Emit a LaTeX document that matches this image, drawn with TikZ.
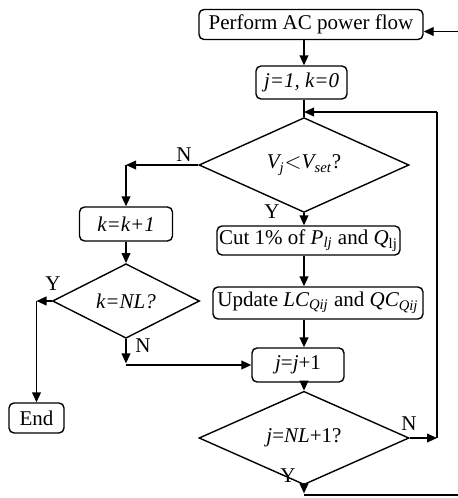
\documentclass[tikz,border=0pt]{standalone}
\usepackage{amsmath}
\usepackage{fontspec}
\setmainfont{Liberation Serif}
\usetikzlibrary{arrows.meta,shapes.geometric}
\tikzset{
  procbox/.style={
    draw,rounded corners=2.5pt,line width=0.7pt,
    minimum height=15pt,inner sep=1pt,
    font=\fontsize{10.5}{12}\selectfont
  },
  decbox/.style={
    draw,diamond,line width=0.7pt,inner sep=0pt,
    font=\fontsize{10.5}{12}\selectfont
  },
  flow/.style={line width=0.7pt,-{Triangle[length=5pt,width=4.4pt]}},
  plain/.style={line width=0.7pt},
  lbl/.style={font=\fontsize{10.5}{12}\selectfont,inner sep=0pt},
}

\begin{document}
\begin{tikzpicture}[x=0.5pt,y=-0.5pt]
  \useasboundingbox (0,0) rectangle (457,498);
  \coordinate (spine) at (304,0);
  \node[procbox,minimum width=112pt] (pflow) at (311,24.5) {Perform AC power flow};
  \node[procbox,minimum width=45.5pt,minimum height=16.5pt] (jinit) at (301.5,82.5) {\textit{j=1, k=0}};
  \node[decbox,minimum width=105pt,minimum height=34pt] (vcheck) at (304,165) {$\textit{V}_{\textit{j}}{<}\textit{V}_{\textit{set}}$?};
  \node[procbox,minimum width=46.5pt,minimum height=17pt] (kinc) at (126,224) {\textit{k=k+1}};
  \node[decbox,minimum width=73.5pt,minimum height=26pt] (kcheck) at (126,301) {\textit{k=NL?}};
  \node[procbox,minimum width=91.5pt,minimum height=14.5pt] (cut) at (308.5,240.5) {Cut 1\% of $\textit{P}_{\textit{lj}}$ and $\textit{Q}_{\text{lj}}$};
  \node[procbox,minimum width=105pt,minimum height=16pt] (upd) at (318,303) {Update $\textit{LC}_{\textit{Qij}}$ and $\textit{QC}_{\textit{Qij}}$};
  \node[procbox,minimum width=46pt,minimum height=17pt] (jinc) at (298,365) {\textit{j}=\textit{j}+1};
  \node[decbox,minimum width=105pt,minimum height=25pt] (jcheck) at (304,438) {\textit{j}=\textit{NL}+1?};
  \node[procbox,minimum width=27.5pt] (fin) at (36.5,418) {End};
  % branch labels
  \node[lbl] (nv) at (184,155) {N};
  \node[lbl] (yv) at (272,212) {Y};
  \node[lbl] (yk) at (53,284) {Y};
  \node[lbl] (nk) at (143,346) {N};
  \node[lbl] (nj) at (409,424) {N};
  \node[lbl] (yj) at (288,476) {Y};
  % main line
  \draw[flow] (pflow.south -| spine) -- (jinit.north -| spine);
  \draw[plain] (jinit.south -| spine) -- (vcheck.north);
  \draw[flow] (vcheck.south) -- (cut.north -| spine);
  \draw[flow] (cut.south -| spine) -- (upd.north -| spine);
  \draw[flow] (upd.south -| spine) -- (jinc.north -| spine);
  \draw[flow] (jinc.south -| spine) -- (jcheck.north);
  % left branch
  \coordinate (nturn) at (vcheck.west -| kinc.north);
  \draw[flow] (vcheck.west) -- (nturn);
  \draw[flow] (nturn) -- (kinc.north);
  \draw[flow] (kinc.south) -- (kcheck.north);
  \coordinate (yturn) at (kcheck.west -| fin.north);
  \draw[flow] (kcheck.west) -- (yturn);
  \draw[flow] (yturn) -- (fin.north);
  \coordinate (kturn) at (kcheck.south |- jinc.west);
  \draw[flow] (kcheck.south) -- ([yshift=0.8pt]kturn);
  \draw[flow] (kturn) -- (jinc.west);
  % loop back to the check
  \coordinate (loopr) at (437,112);
  \coordinate (merge) at (spine |- loopr);
  \draw[flow] (loopr) -- (merge);
  \draw[plain] (loopr) -- (jcheck.east -| loopr);
  \draw[flow] (jcheck.east) -- (jcheck.east -| loopr);
  % loop back to the power flow
  \coordinate (bend) at (jcheck.south |- 0,495);
  \coordinate (back) at (463,495);
  \coordinate (ret) at ([yshift=-3.5pt]pflow.east);
  \draw[flow] (jcheck.south) -- ([yshift=0.8pt]bend);
  \draw[flow] (bend) -- (back) |- (ret);
\end{tikzpicture}
\end{document}
